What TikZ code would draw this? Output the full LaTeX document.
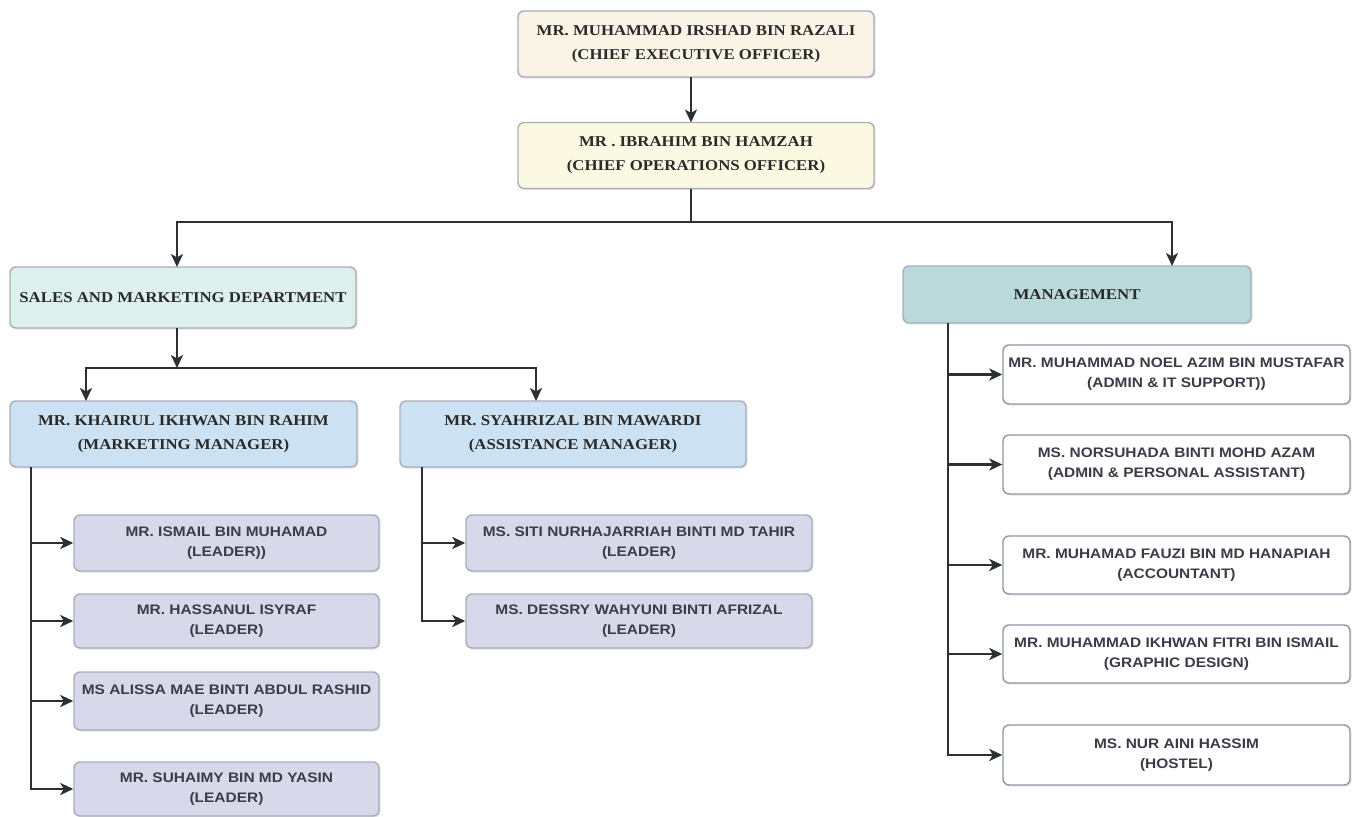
\documentclass[tikz,border=0pt]{standalone}
\usepackage{fontspec}
\usetikzlibrary{arrows.meta,shadows}
\newfontfamily\serifb[FakeStretch=1.12]{Liberation Serif}
\newfontfamily\sansb[FakeStretch=1.12]{Liberation Sans}
\definecolor{ceofill}{HTML}{FAF4E6}
\definecolor{coofill}{HTML}{FBF9E1}
\definecolor{salesfill}{HTML}{DDF0EC}
\definecolor{mgmtfill}{HTML}{B9D9DB}
\definecolor{mgrfill}{HTML}{CCE2F2}
\definecolor{leadfill}{HTML}{D7D9EA}
\definecolor{bordergrey}{HTML}{A9ADB8}
\definecolor{borderblue}{HTML}{8E97A8}
\definecolor{txtdark}{HTML}{2A2A2A}
\definecolor{txtgrey}{HTML}{3C3C48}
\definecolor{linec}{HTML}{2B3033}
\begin{document}
\begin{tikzpicture}[x=1pt,y=-1pt,
  base/.style={rectangle, rounded corners=6pt, draw=bordergrey, line width=1.4pt,
    inner sep=0pt, align=center,
    drop shadow={opacity=0.2,shadow xshift=1.5pt,shadow yshift=-1.5pt}},
  serifbox/.style={base, font=\serifb\bfseries\fontsize{15}{24}\selectfont, text=txtdark},
  sansbox/.style={base, font=\sansb\bfseries\fontsize{13.8}{20}\selectfont, text=txtgrey},
  leadbox/.style={sansbox, fill=leadfill, minimum height=56},
  mbox/.style={sansbox, fill=white, draw=borderblue, minimum width=347, minimum height=59},
  line/.style={draw=linec, line width=2.7pt},
  arr/.style={line, -{Stealth[length=13pt,width=12pt,inset=3.5pt]}}
]
\useasboundingbox (0,0) rectangle (1361,817);

% top level
\node[serifbox, fill=ceofill, minimum width=356, minimum height=66] (ceo) at (696,44)
  {MR. MUHAMMAD IRSHAD BIN RAZALI\\(CHIEF EXECUTIVE OFFICER)};
\node[serifbox, fill=coofill, minimum width=356, minimum height=66] (coo) at (696,155.5)
  {MR . IBRAHIM BIN HAMZAH\\(CHIEF OPERATIONS OFFICER)};

\node[serifbox, fill=salesfill, minimum width=346, minimum height=61] (sales) at (183,297.5)
  {SALES AND MARKETING DEPARTMENT};
\node[serifbox, fill=mgmtfill, minimum width=348, minimum height=57] (mgmt) at (1077,294.5)
  {MANAGEMENT};

\node[serifbox, fill=mgrfill, minimum width=347, minimum height=66] (khairul) at (183.5,434)
  {MR. KHAIRUL IKHWAN BIN RAHIM\\(MARKETING MANAGER)};
\node[serifbox, fill=mgrfill, minimum width=346, minimum height=66] (syah) at (573,434)
  {MR. SYAHRIZAL BIN MAWARDI\\(ASSISTANCE MANAGER)};

% leaders under Khairul
\node[leadbox, minimum width=305] (l1) at (226.5,543) {MR. ISMAIL BIN MUHAMAD\\(LEADER))};
\node[leadbox, minimum width=305, minimum height=54] (l2) at (226.5,621) {MR. HASSANUL ISYRAF\\(LEADER)};
\node[leadbox, minimum width=305, minimum height=58] (l3) at (226.5,701) {MS ALISSA MAE BINTI ABDUL RASHID\\(LEADER)};
\node[leadbox, minimum width=305, minimum height=54] (l4) at (226.5,789) {MR. SUHAIMY BIN MD YASIN\\(LEADER)};

% leaders under Syahrizal
\node[leadbox, minimum width=346] (s1) at (639,543) {MS. SITI NURHAJARRIAH BINTI MD TAHIR\\(LEADER)};
\node[leadbox, minimum width=346, minimum height=54] (s2) at (639,621) {MS. DESSRY WAHYUNI BINTI AFRIZAL\\(LEADER)};

% management staff
\node[mbox] (m1) at (1176.5,374.5) {MR. MUHAMMAD NOEL AZIM BIN MUSTAFAR\\(ADMIN \& IT SUPPORT))};
\node[mbox] (m2) at (1176.5,464.5) {MS. NORSUHADA BINTI MOHD AZAM\\(ADMIN \& PERSONAL ASSISTANT)};
\node[mbox, minimum height=58] (m3) at (1176.5,565) {MR. MUHAMAD FAUZI BIN MD HANAPIAH\\(ACCOUNTANT)};
\node[mbox, minimum height=58] (m4) at (1176.5,654) {MR. MUHAMMAD IKHWAN FITRI BIN ISMAIL\\(GRAPHIC DESIGN)};
\node[mbox, minimum height=60] (m5) at (1176.5,755) {MS. NUR AINI HASSIM\\(HOSTEL)};

% junction coordinates
\coordinate (j0) at (691,222);
\coordinate (cin) at (691,122.5);
\coordinate (cout) at (691,77);
\coordinate (cdown) at (691,188.5);
\coordinate (salin) at (177,267);
\coordinate (mgin) at (1172,266);
\coordinate (j1) at (177,368);
\coordinate (sout) at (177,328);
\coordinate (kin) at (86,401);
\coordinate (sin) at (536,401);
\coordinate (kd) at (31,467);
\coordinate (sd) at (422,467);
\coordinate (md) at (948,323);

% connectors
\draw[arr] (cout) -- (cin);
\draw[line] (cdown) -- (j0);
\draw[arr] (j0) -| (salin);
\draw[arr] (j0) -| (mgin);

\draw[arr] (sout) -- (j1);
\draw[arr] (j1) -| (kin);
\draw[arr] (j1) -| (sin);

\foreach \t in {l1,l2,l3,l4} \draw[arr] (kd) |- (\t.west);
\foreach \t in {s1,s2} \draw[arr] (sd) |- (\t.west);
\foreach \t in {m1,m2,m3,m4,m5} \draw[arr] (md) |- (\t.west);
\end{tikzpicture}
\end{document}
